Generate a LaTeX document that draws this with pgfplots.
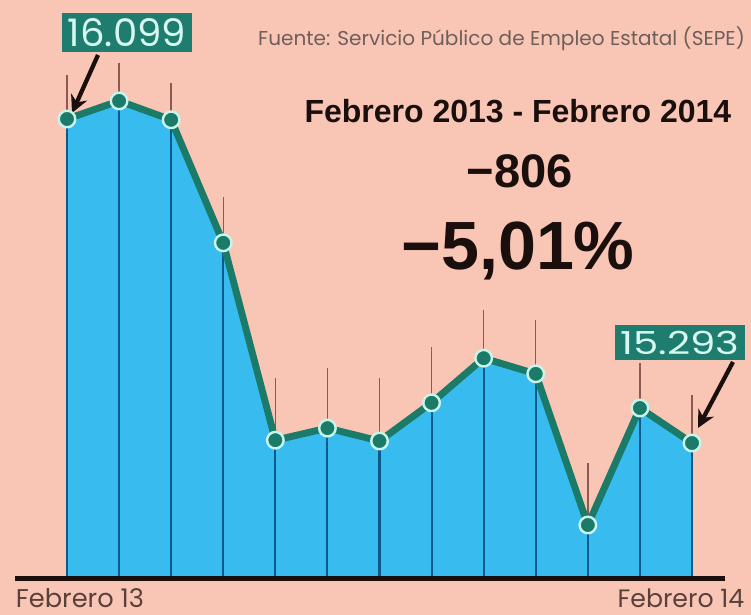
\documentclass[border=0pt]{standalone}
\usepackage{pgfplots}
\pgfplotsset{compat=1.18}
\usepackage{pgfplotstable}
\usepackage{graphicx}
\usepackage{fontspec}
\usetikzlibrary{arrows.meta}
\newfontfamily\pop{Poppins}
\newfontfamily\lib{Liberation Sans}
\definecolor{bgc}{HTML}{F9C6B6}
\definecolor{areac}{HTML}{38BCF0}
\definecolor{linec}{HTML}{1B7A68}
\definecolor{ringc}{HTML}{C8F5EB}
\definecolor{innerc}{HTML}{0A5A8C}
\definecolor{tickc}{HTML}{8C5A50}
\definecolor{boxc}{HTML}{1E7D6E}
\definecolor{boxtxt}{HTML}{D7F8F0}
\definecolor{darktxt}{HTML}{1A0F0D}
\definecolor{srctxt}{HTML}{6E5F5A}
\definecolor{axtxt}{HTML}{5A403A}

\pgfplotstableread{
x y up down
0 16099 109 1142
1 16144 94 1187
2 16097 92 1140
3 15791 114 834
4 15300 155 343
5 15330 150 373
6 15298 157 341
7 15393 139 436
8 15504 120 547
9 15465 134 508
10 15089 154 132
11 15380 112 423
12 15293 119 336
}\datatable

\begin{document}
\begin{tikzpicture}
\begin{axis}[
  scale only axis, width=563.25pt, height=461.25pt,
  xmin=-1.2864, xmax=13.1328, ymin=14865.1, ymax=16395.1,
  hide axis, clip=false]
\fill[bgc] (rel axis cs:0,0) rectangle (rel axis cs:1,1);
% area
\addplot[fill=areac, draw=none] coordinates {
 (0,14957) (0,16099) (1,16144) (2,16097) (3,15791) (4,15300) (5,15330)
 (6,15298) (7,15393) (8,15504) (9,15465) (10,15089) (11,15380) (12,15293) (12,14957)};
% inner vertical lines
\addplot[draw=none, mark=none, error bars/.cd, y dir=minus, y explicit,
  error mark=none, error bar style={color=innerc, line width=1.6pt}]
  table[x=x, y=y, y error minus=down] {\datatable};
% upper ticks
\addplot[draw=none, mark=none, error bars/.cd, y dir=plus, y explicit,
  error mark=none, error bar style={color=tickc, line width=1.1pt}]
  table[x=x, y=y, y error plus=up] {\datatable};
% baseline
\addplot[color=darktxt, line width=3.8pt, mark=none] coordinates {(-0.998,14957) (12.634,14957)};
% main line
\addplot[color=linec, line width=5.2pt, line join=round, mark=*, mark size=6.2pt,
  mark options={fill=linec, draw=ringc, line width=1.8pt}]
  table[x=x, y=y] {\datatable};
% texts
\node[anchor=base, text=srctxt] at (rel axis cs:0.6678,0.9252) {\resizebox{365pt}{!}{\pop Fuente: Servicio Público de Empleo Estatal (SEPE)}};
\node[anchor=base, text=darktxt] at (rel axis cs:0.6897,0.8016) {\resizebox{320pt}{!}{\lib\bfseries Febrero 2013 - Febrero 2014}};
\node[anchor=base, text=darktxt] at (rel axis cs:0.6924,0.6959) {\resizebox{79.5pt}{!}{\lib\bfseries −806}};
\node[anchor=base, text=darktxt] at (rel axis cs:0.6897,0.5610) {\resizebox{175pt}{!}{\lib\bfseries −5,01\%}};
\node[anchor=base, text=axtxt, inner sep=0pt] at (rel axis cs:0.1065,0.0115) {\resizebox{96pt}{!}{\pop Febrero 13}};
\node[anchor=base, text=axtxt, inner sep=0pt] at (rel axis cs:0.9068,0.0115) {\resizebox{95pt}{!}{\pop Febrero 14}};
% label boxes
\node[fill=boxc, inner sep=0pt, minimum width=97.5pt, minimum height=29.25pt, text=boxtxt]
  at (rel axis cs:0.1691,0.9472) {\resizebox{88.5pt}{21pt}{\pop 16.099}};
\node[fill=boxc, inner sep=0pt, minimum width=97.5pt, minimum height=26.25pt, text=boxtxt]
  at (rel axis cs:0.9055,0.4431) {\resizebox{89pt}{17.5pt}{\pop 15.293}};
% arrows
\draw[darktxt, line width=3.2pt, -{Stealth[length=13pt, width=13pt]}] (rel axis cs:0.1305,0.9106) -- (rel axis cs:0.0959,0.8163);
\draw[darktxt, line width=3.2pt, -{Stealth[length=13pt, width=13pt]}] (rel axis cs:0.9760,0.4114) -- (rel axis cs:0.9294,0.3041);
\end{axis}
\end{tikzpicture}
\end{document}
